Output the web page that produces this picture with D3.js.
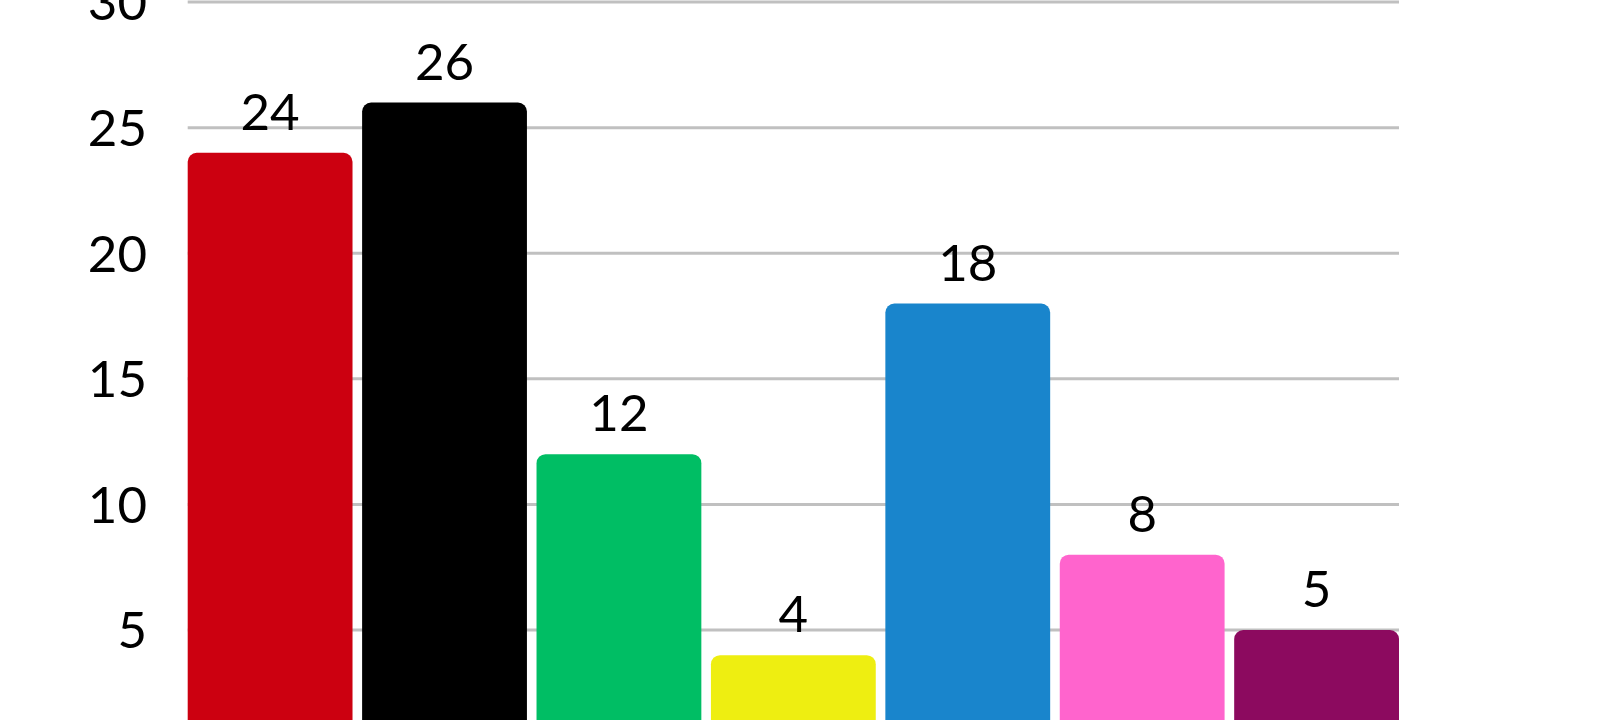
<!DOCTYPE html>
<html lang="en">

<head>
  <meta charset="UTF-8">
  <title>Bar chart</title>
  <style>
    body { margin: 0; background: #fff; }
    svg { display: block; overflow: hidden; }
  </style>
</head>

<body>
  <svg></svg>
  <script src="https://cdn.jsdelivr.net/npm/d3@7"></script>
  <script>
    // data
    var categories = ["A", "B", "C", "D", "E", "F", "G"];
    var values = [24, 26, 12, 4, 18, 8, 5];
    var barColors = ["#cc0010", "#000000", "#00be64", "#eeee11", "#1985cc", "#ff64cd", "#8c0a5f"];
    var yTicks = [5, 10, 15, 20, 25, 30];

    var data = categories.map(function(c, i) {
      return { name: c, value: values[i], color: barColors[i] };
    });

    var width = 1600, height = 720;
    var svg = d3.select("svg")
      .attr("width", width)
      .attr("height", height);

    // the chart is cropped: zero line sits below the bottom edge
    var y = d3.scaleLinear()
      .domain([0, 30])
      .range([755.6, 2.1]);

    var x = d3.scaleBand()
      .domain(categories)
      .range([187.7, 1399])
      .paddingInner(0.055)
      .paddingOuter(0);

    var font = "Lato, 'Open Sans', sans-serif";

    // grid lines
    svg.append("g")
      .selectAll("line")
      .data(yTicks)
      .join("line")
      .attr("x1", x.range()[0])
      .attr("x2", x.range()[1])
      .attr("y1", d => y(d))
      .attr("y2", d => y(d))
      .attr("stroke", "#c0c0c0")
      .attr("stroke-width", 3);

    // y tick labels
    svg.append("g")
      .selectAll("text")
      .data(yTicks)
      .join("text")
      .attr("x", 147)
      .attr("y", d => y(d))
      .attr("dy", "0.36em")
      .attr("text-anchor", "end")
      .attr("font-family", font)
      .attr("font-size", 51)
      .attr("fill", "#000")
      .text(d => d);

    // bars (bottom runs off the picture so only the top corners show rounded)
    svg.append("g")
      .selectAll("rect")
      .data(data)
      .join("rect")
      .attr("x", d => x(d.name))
      .attr("y", d => y(d.value))
      .attr("width", x.bandwidth())
      .attr("height", d => y(0) - y(d.value))
      .attr("rx", 9)
      .attr("fill", d => d.color);

    // value labels
    svg.append("g")
      .selectAll("text")
      .data(data)
      .join("text")
      .attr("x", d => x(d.name) + x.bandwidth() / 2)
      .attr("y", d => y(d.value) - 23)
      .attr("text-anchor", "middle")
      .attr("font-family", font)
      .attr("font-size", 51)
      .attr("fill", "#000")
      .text(d => d.value);
  </script>
</body>

</html>
